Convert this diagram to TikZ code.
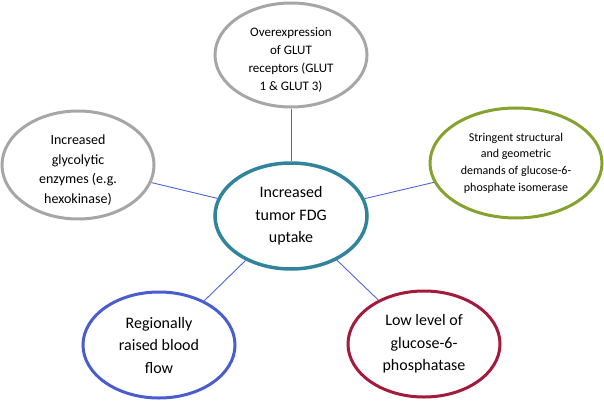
\documentclass[tikz,border=0pt]{standalone}
\usepackage{fontspec}
\setmainfont{Carlito}
\usetikzlibrary{shapes.geometric}
\definecolor{cgrey}{HTML}{A6A6A6}
\definecolor{cteal}{HTML}{31849B}
\definecolor{cgreen}{HTML}{86A22E}
\definecolor{cblue}{HTML}{4B5DCE}
\definecolor{cred}{HTML}{A31A3B}
\definecolor{cline}{HTML}{4F63D8}
\tikzset{
  bubble/.style={ellipse, draw, line width=3pt, fill=white, inner sep=0pt, align=center},
  link/.style={draw=cline, line width=0.9pt},
  big/.style={font=\fontsize{16}{22.5}\selectfont},
  fonta/.style={font=\fontsize{13}{18}\selectfont},
  fontb/.style={font=\fontsize{14}{19.5}\selectfont},
}
\begin{document}
\begin{tikzpicture}[x=1pt,y=-1pt]
\useasboundingbox (0,0) rectangle (604,401);
\node[bubble, draw=cgrey, minimum width=152pt, minimum height=104pt, label={[align=center, fonta, yshift=-5pt]center:Overexpression\\of GLUT\\receptors (GLUT\\1 \& GLUT 3)}] (top) at (291,55) {};
\node[bubble, draw=cgrey, minimum width=152pt, minimum height=108pt, label={[align=center, fontb, yshift=-5pt]center:Increased\\glycolytic\\enzymes (e.g.\\hexokinase)}] (left) at (78,165) {};
\node[bubble, draw=cgreen, minimum width=172pt, minimum height=110pt, font=\fontsize{12}{16.7}\selectfont] (right) at (516,163) {Stringent structural\\and geometric\\demands of glucose-6-\\phosphate isomerase};
\node[bubble, draw=cteal, line width=3.5pt, minimum width=152pt, minimum height=106pt, big] (mid) at (291,216) {Increased\\tumor FDG\\uptake};
\node[bubble, draw=cblue, minimum width=152pt, minimum height=106pt, big] (bl) at (159,345) {Regionally\\raised blood\\flow};
\node[bubble, draw=cred, minimum width=152pt, minimum height=106pt, big] (br) at (424,344) {Low level of\\glucose-6-\\phosphatase};
\draw[link] (top) -- (mid);
\draw[link] (left) -- (mid);
\draw[link] (right) -- (mid);
\draw[link] (bl) -- (mid);
\draw[link] (br) -- (mid);
\end{tikzpicture}
\end{document}
